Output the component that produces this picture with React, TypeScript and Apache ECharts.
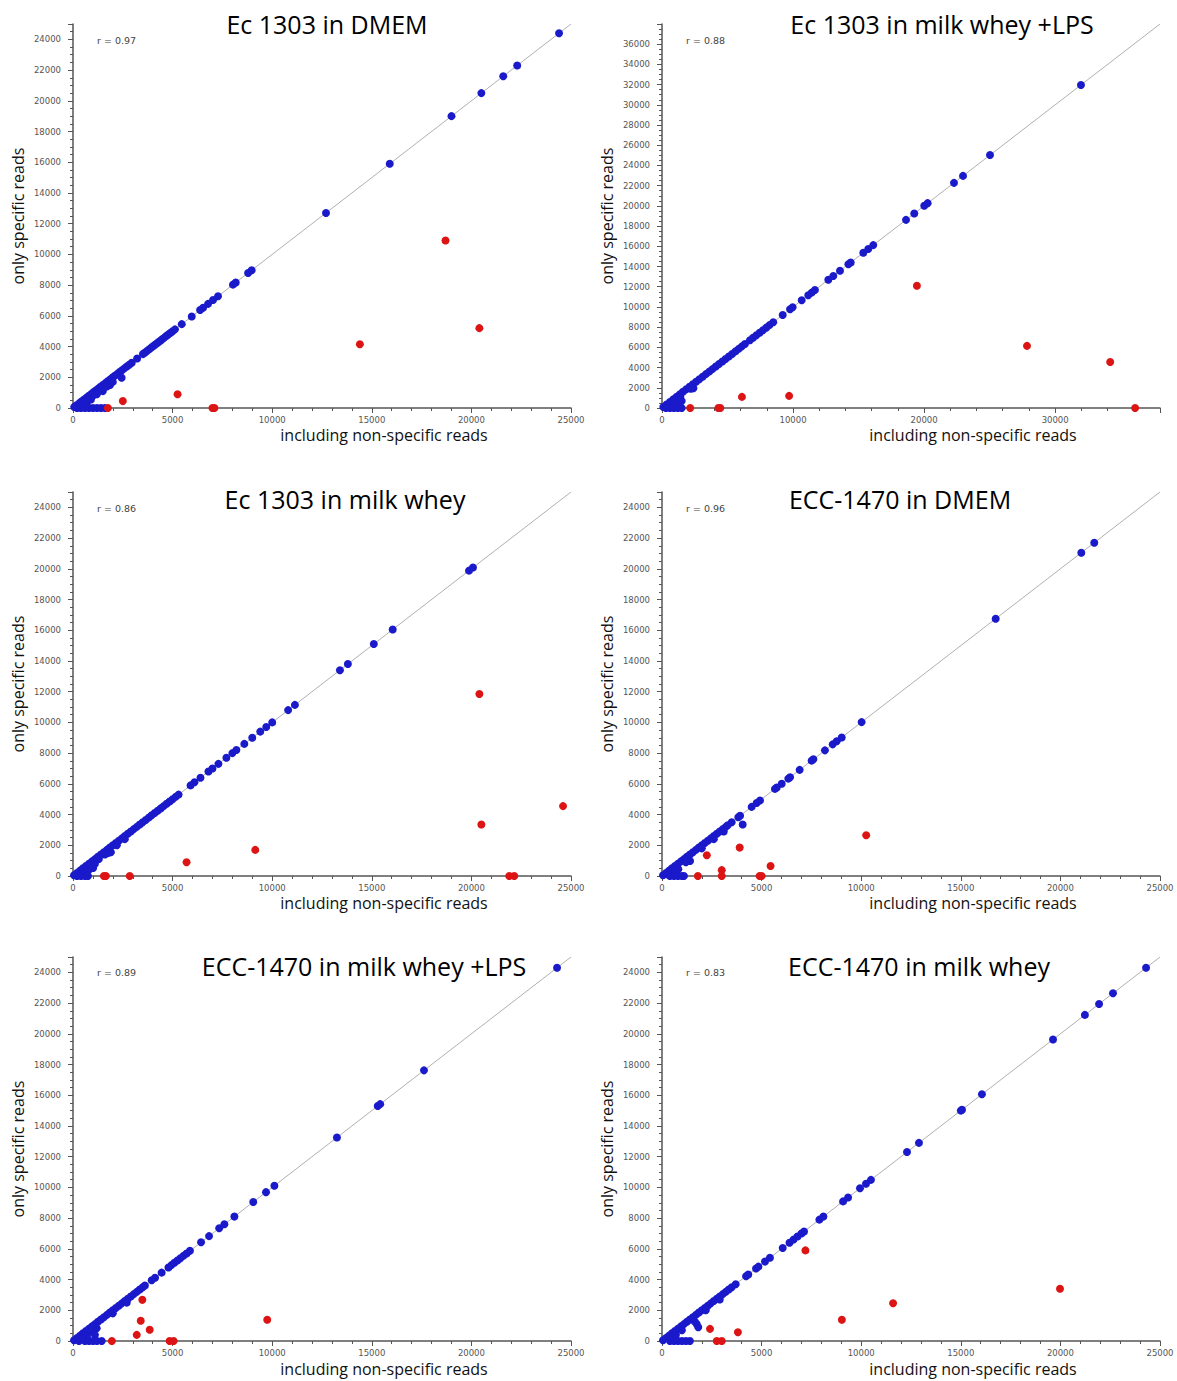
import React, { useEffect, useRef } from "react";
import * as echarts from "echarts";

// ---------- panel texts ----------
const TITLES = [
  "Ec 1303 in DMEM",
  "Ec 1303 in milk whey +LPS",
  "Ec 1303 in milk whey",
  "ECC-1470 in DMEM",
  "ECC-1470 in milk whey +LPS",
  "ECC-1470 in milk whey",
];
const R_VALUES = ["0.97", "0.88", "0.86", "0.96", "0.89", "0.83"];
const X_NAME = "including non-specific reads";
const Y_NAME = "only specific reads";

// ---------- axis scales ----------
const AXIS_MAX = [25000, 38000, 25000, 25000, 25000, 25000];
const X_INTERVAL = [5000, 10000, 5000, 5000, 5000, 5000];
const X_MINOR_SPLIT = [5, 5, 5, 5, 5, 5];
const Y_INTERVAL = [2000, 2000, 2000, 2000, 2000, 2000];
const Y_MINOR_SPLIT = [4, 4, 4, 4, 4, 4];

// ---------- data: values whose x equals y (points on the identity line) ----------
const onLine1 = [
  60, 180, 300, 420, 540, 660, 780, 900, 1020, 1140, 1260, 1380, 1500, 1620, 1740, 1860,
  1980, 2100, 2220, 2340, 2460, 2580, 2700, 2820, 2950, 3220, 3510, 3600, 3700, 3800,
  3900, 4000, 4100, 4200, 4300, 4400, 4500, 4600, 4700, 4800, 4900, 5000, 5120, 5460,
  5960, 6380, 6530, 6780, 7030, 7280, 8030, 8170, 8790, 8970, 12700, 15900, 19000,
  20500, 21600, 22300, 24400,
];
const onLine2 = [
  100, 350, 600, 850, 1100, 1350, 1600, 1850, 2100, 2350, 2600, 2850, 3100, 3350, 3600,
  3850, 4100, 4350, 4600, 4850, 5100, 5350, 5600, 5850, 6100, 6330, 6710, 6950, 7200,
  7450, 7700, 7950, 8200, 8490, 9210, 9770, 9970, 10660, 11160, 11420, 11670, 12690,
  13070, 13580, 14220, 14400, 15360, 15740, 16120, 18620, 19250, 20010, 20270, 22280,
  22970, 25030, 31970,
];
const onLine3 = [
  50, 200, 350, 500, 650, 800, 950, 1100, 1250, 1400, 1550, 1700, 1850, 2000, 2150, 2300,
  2450, 2600, 2750, 2900, 3050, 3200, 3350, 3500, 3650, 3800, 3950, 4100, 4250, 4400,
  4550, 4700, 4850, 5000, 5150, 5300, 5900, 6100, 6400, 6800, 7000, 7300, 7700, 8000,
  8200, 8600, 9000, 9400, 9700, 10000, 10800, 11140, 13400, 13800, 15100, 16050, 19880,
  20080,
];
const onLine4 = [
  50, 200, 350, 500, 650, 800, 950, 1100, 1250, 1400, 1550, 1700, 1850, 2000, 2150, 2300,
  2450, 2600, 2750, 2900, 3050, 3200, 3300, 3500, 3830, 3920, 4500, 4750, 4920, 5670,
  5760, 6010, 6340, 6430, 6910, 7510, 7600, 8180, 8570, 8770, 9020, 10020, 16750, 21050,
  21700,
];
const onLine5 = [
  50, 200, 350, 500, 650, 800, 950, 1100, 1250, 1400, 1550, 1700, 1850, 2000, 2150, 2300,
  2450, 2600, 2750, 2900, 3050, 3200, 3350, 3500, 3610, 3950, 4120, 4450, 4790, 4940,
  5090, 5240, 5390, 5540, 5700, 5870, 6430, 6830, 7340, 7600, 8100, 9050, 9690, 10110,
  13250, 15300, 15420, 17620, 24300,
];
const onLine6 = [
  50, 200, 350, 500, 650, 800, 950, 1100, 1250, 1400, 1550, 1700, 1850, 2000, 2150, 2300,
  2450, 2600, 2750, 2900, 3050, 3200, 3350, 3500, 3700, 4220, 4330, 4720, 4840, 5170,
  5420, 6060, 6400, 6600, 6800, 7000, 7130, 7900, 8100, 9090, 9340, 9940, 10240, 10490,
  12300, 12900, 15000, 15060, 16060, 19630, 21230, 21940, 22640, 24300,
];

// ---------- data: blue points off the identity line [x, y] ----------
const offBlue1 = [
  [2440, 1970], [1860, 1500], [1700, 1400], [1500, 1100], [1200, 900], [900, 550],
  [700, 350], [500, 150], [300, 50], [200, 0], [400, 0], [600, 0], [800, 0], [1000, 0],
  [1200, 0], [1400, 0], [1600, 0], [2000, 1700], [1300, 1100], [1000, 800], [700, 500],
];
const offBlue2 = [
  [2400, 1950], [2200, 1900], [1400, 1100], [1500, 700], [1300, 400], [1000, 200],
  [800, 100], [300, 0], [600, 0], [900, 0], [1200, 0], [1500, 0], [1200, 900], [900, 600],
];
const offBlue3 = [
  [1760, 1500], [1900, 1550], [1600, 1400], [1300, 1100], [1100, 800], [1010, 520],
  [800, 400], [600, 200], [400, 100], [200, 0], [400, 0], [600, 0], [750, 0],
  [2200, 2000], [2600, 2400], [900, 700],
];
const offBlue4 = [
  [4050, 3350], [1410, 980], [1200, 900], [820, 440], [600, 200], [300, 100], [400, 0],
  [600, 0], [800, 0], [1000, 0], [1100, 0], [2000, 1800], [2600, 2400], [3100, 2900],
];
const offBlue5 = [
  [1190, 830], [1000, 900], [900, 600], [1100, 400], [700, 300], [500, 100], [300, 0],
  [600, 0], [800, 0], [1000, 0], [1200, 0], [1440, 0], [2000, 1800], [2700, 2500],
];
const offBlue6 = [
  [1820, 890], [1740, 1110], [1650, 1260], [1000, 700], [700, 400], [500, 200], [400, 0],
  [600, 0], [800, 0], [1000, 0], [1200, 0], [1400, 0], [2200, 2000], [2900, 2700],
];

// ---------- data: red points [x, y] ----------
const red1 = [
  [18700, 10900], [14400, 4150], [20400, 5200], [5250, 900], [2500, 450], [1750, 0],
  [7000, 0], [7100, 0],
];
const red2 = [
  [19450, 12100], [27850, 6150], [34200, 4550], [36100, 0], [9700, 1200], [6100, 1100],
  [4300, 0], [4450, 0], [2150, 0],
];
const red3 = [
  [20400, 11850], [20500, 3350], [24600, 4550], [9150, 1700], [5700, 900], [2850, 0],
  [1550, 0], [1650, 0], [21900, 0], [22150, 0],
];
const red4 = [
  [10250, 2650], [3900, 1850], [2250, 1350], [5450, 650], [3000, 380], [3000, 0],
  [1800, 0], [4900, 0], [5000, 0],
];
const red5 = [
  [3480, 2680], [3400, 1320], [3850, 730], [3200, 400], [1950, 0], [4850, 0], [5050, 0],
  [9750, 1380],
];
const red6 = [
  [7200, 5900], [19980, 3400], [11600, 2460], [9030, 1380], [3810, 570], [2410, 790],
  [2750, 0], [3000, 0],
];

const ON_LINE = [onLine1, onLine2, onLine3, onLine4, onLine5, onLine6];
const OFF_BLUE = [offBlue1, offBlue2, offBlue3, offBlue4, offBlue5, offBlue6];
const RED = [red1, red2, red3, red4, red5, red6];

const BLUE = "#1a1acb";
const REDC = "#dd1414";
const AXIS_COLOR = "#555";

export default function App() {
  const ref = useRef<HTMLDivElement>(null);

  useEffect(() => {
    document.body.style.margin = "0";
    if (!ref.current) return;
    const chart = echarts.init(ref.current, undefined, { renderer: "svg" });

    const colLeft = [73, 662];
    const rowTop = [24, 492, 957];
    const W = 498;
    const H = 384;

    const grids: any[] = [];
    const xAxes: any[] = [];
    const yAxes: any[] = [];
    const series: any[] = [];
    const graphics: any[] = [];
    const plain = (v: number) => String(v);

    for (let i = 0; i < 6; i++) {
      const col = i % 2;
      const row = Math.floor(i / 2);
      const left = colLeft[col];
      const top = rowTop[row];
      grids.push({ left, top, width: W, height: H, containLabel: false, outerBoundsMode: "none" });
      const common = {
        gridIndex: i,
        type: "value",
        min: 0,
        max: AXIS_MAX[i],
        splitLine: { show: false },
        axisLine: { show: true, onZero: false, lineStyle: { color: AXIS_COLOR, width: 1.5 } },
        axisTick: { show: true, inside: false, length: 5, lineStyle: { color: AXIS_COLOR, width: 1 } },
        minorTick: { show: true, length: 3, lineStyle: { color: AXIS_COLOR, width: 1 } },
        minorSplitLine: { show: false },
      };
      xAxes.push({
        ...common,
        interval: X_INTERVAL[i],
        minorTick: { ...common.minorTick, splitNumber: X_MINOR_SPLIT[i] },
        axisLabel: {
          margin: 7,
          fontSize: 8.5,
          color: "#555",
          fontFamily: "DejaVu Sans",
          formatter: plain,
          showMaxLabel: AXIS_MAX[i] % X_INTERVAL[i] === 0,
        },
      });
      yAxes.push({
        ...common,
        interval: Y_INTERVAL[i],
        minorTick: { ...common.minorTick, splitNumber: Y_MINOR_SPLIT[i] },
        axisLabel: {
          margin: 12,
          fontSize: 8.5,
          color: "#555",
          fontFamily: "DejaVu Sans",
          formatter: plain,
          showMaxLabel: false,
        },
      });

      series.push({
        type: "line",
        xAxisIndex: i,
        yAxisIndex: i,
        data: [
          [0, 0],
          [AXIS_MAX[i], AXIS_MAX[i]],
        ],
        symbol: "none",
        lineStyle: { color: "#b0b0b0", width: 1 },
        z: 1,
        silent: true,
      });
      series.push({
        type: "scatter",
        xAxisIndex: i,
        yAxisIndex: i,
        data: ON_LINE[i].map((v) => [v, v]).concat(OFF_BLUE[i]),
        symbolSize: 8,
        itemStyle: { color: BLUE, opacity: 1 },
        z: 2,
      });
      series.push({
        type: "scatter",
        xAxisIndex: i,
        yAxisIndex: i,
        data: RED[i],
        symbolSize: 8,
        itemStyle: { color: REDC, opacity: 1 },
        z: 3,
      });

      const titleX = [327, 942, 345, 900, 364, 919][i];
      const titleY = [24, 24, 499, 499, 966, 966][i];
      graphics.push({
        type: "text",
        x: titleX,
        y: titleY,
        style: {
          text: TITLES[i],
          fontFamily: "Open Sans",
          fontSize: 25,
          fill: "#000",
          textAlign: "center",
          textVerticalAlign: "middle",
        },
      });
      const nameY = [435, 903, 1369][row];
      graphics.push({
        type: "text",
        x: left + 311,
        y: nameY,
        style: {
          text: X_NAME,
          fontFamily: "Open Sans",
          fontSize: 16,
          fill: "#111",
          textAlign: "center",
          textVerticalAlign: "middle",
        },
      });
      graphics.push({
        type: "text",
        x: left - 55,
        y: top + 192,
        rotation: Math.PI / 2,
        style: {
          text: Y_NAME,
          fontFamily: "Open Sans",
          fontSize: 16,
          fill: "#111",
          textAlign: "center",
          textVerticalAlign: "middle",
        },
      });
      graphics.push({
        type: "text",
        x: left + 24,
        y: [40, 508, 972][row],
        style: {
          text: "r = " + R_VALUES[i],
          fontFamily: "DejaVu Sans",
          fontSize: 9.5,
          fill: "#444",
          textAlign: "left",
          textVerticalAlign: "middle",
        },
      });
    }

    chart.setOption({
      animation: false,
      backgroundColor: "#fff",
      grid: grids,
      xAxis: xAxes,
      yAxis: yAxes,
      series,
      graphic: graphics,
    });

    return () => {
      chart.dispose();
    };
  }, []);

  return <div ref={ref} style={{ width: 1177, height: 1381 }} />;
}
